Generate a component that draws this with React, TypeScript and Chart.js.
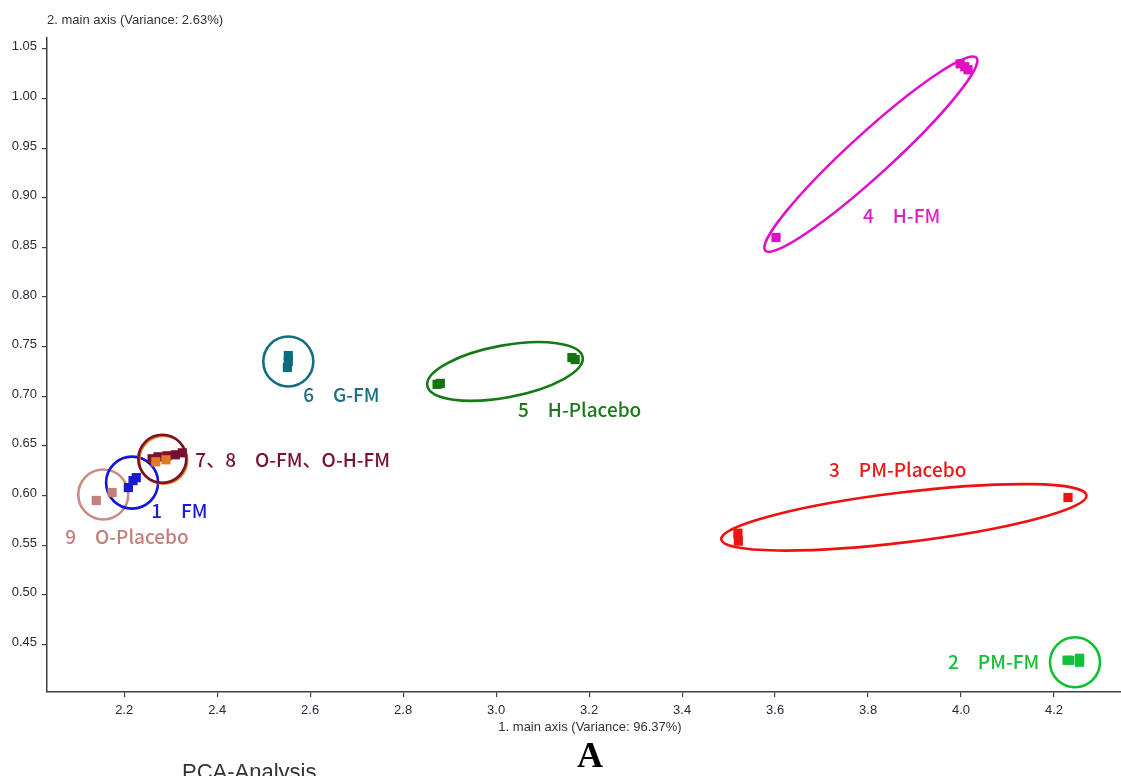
import React, { useEffect, useRef } from 'react';
import { Chart, registerables } from 'chart.js';

Chart.register(...registerables);

// ---------- axis ----------
const xTickValues = [2.2, 2.4, 2.6, 2.8, 3.0, 3.2, 3.4, 3.6, 3.8, 4.0, 4.2];
const yTickValues = [0.45, 0.5, 0.55, 0.6, 0.65, 0.7, 0.75, 0.8, 0.85, 0.9, 0.95, 1.0, 1.05];
const xMin = 2.034;
const xMax = 4.344;
const yMin = 0.402;
const yMax = 1.061;

const xAxisTitle = '1. main axis (Variance: 96.37%)';
const yAxisTitle = '2. main axis (Variance: 2.63%)';
const panelLetter = 'A';
const footerText = 'PCA-Analysis';

// ---------- series (PC1, PC2) ----------
const oPlaceboX = [2.14, 2.174];
const oPlaceboY = [0.595, 0.603];

const fmX = [2.209, 2.219, 2.226];
const fmY = [0.608, 0.615, 0.618];

const ohfmX = [2.268, 2.29];
const ohfmY = [0.634, 0.636];

const ofmX = [2.26, 2.273, 2.292, 2.31, 2.325];
const ofmY = [0.637, 0.639, 0.64, 0.641, 0.643];

const gfmX = [2.553, 2.553, 2.551];
const gfmY = [0.741, 0.735, 0.729];

const hPlaceboX = [2.873, 2.88, 3.163, 3.17];
const hPlaceboY = [0.712, 0.713, 0.739, 0.737];

const pmPlaceboX = [3.52, 3.521, 4.23];
const pmPlaceboY = [0.562, 0.554, 0.598];

const hfmX = [3.602, 3.998, 4.008, 4.015];
const hfmY = [0.86, 1.035, 1.032, 1.029];

const pmfmX = [4.228, 4.234, 4.255, 4.255];
const pmfmY = [0.434, 0.434, 0.436, 0.432];

const seriesNames = ['O-Placebo', 'FM', 'O-H-FM', 'O-FM', 'G-FM', 'H-Placebo', 'PM-Placebo', 'H-FM', 'PM-FM'];
const seriesX = [oPlaceboX, fmX, ohfmX, ofmX, gfmX, hPlaceboX, pmPlaceboX, hfmX, pmfmX];
const seriesY = [oPlaceboY, fmY, ohfmY, ofmY, gfmY, hPlaceboY, pmPlaceboY, hfmY, pmfmY];
const seriesColors = ['#c4807b', '#1a1ad0', '#e07a20', '#7a1030', '#0e6a80', '#137313', '#ee1111', '#e010c0', '#12c03a'];

// ---------- annotations: group rings (centre in data units, radii in px) ----------
const rings = [
  { cx: 2.155, cy: 0.601, rx: 25, ry: 25, rot: 0, color: '#c98c87', w: 2.6, dx: 0, dy: 0 },
  { cx: 2.217, cy: 0.613, rx: 26, ry: 26, rot: 0, color: '#1414dc', w: 2.6, dx: 0, dy: 0 },
  { cx: 2.282, cy: 0.637, rx: 24, ry: 24, rot: 0, color: '#e08020', w: 2, dx: 1.2, dy: 1.2 },
  { cx: 2.282, cy: 0.637, rx: 24, ry: 24, rot: 0, color: '#7c1028', w: 2.6, dx: 0, dy: 0 },
  { cx: 2.553, cy: 0.735, rx: 25, ry: 25, rot: 0, color: '#146c80', w: 2.6, dx: 0, dy: 0 },
  { cx: 3.019, cy: 0.725, rx: 79, ry: 26, rot: -10.5, color: '#147a14', w: 2.6, dx: 0, dy: 0 },
  { cx: 3.877, cy: 0.578, rx: 184, ry: 25, rot: -6.9, color: '#f01010', w: 2.6, dx: 0, dy: 0 },
  { cx: 3.806, cy: 0.944, rx: 143, ry: 21, rot: -42.4, color: '#e010c8', w: 2.6, dx: 0, dy: 0 },
  { cx: 4.245, cy: 0.432, rx: 25, ry: 25, rot: 0, color: '#10c030', w: 2.6, dx: 0, dy: 0 },
];

// ---------- annotations: group labels (anchor in data units) ----------
const groupLabels = [
  { text: '9\u3000O-Placebo', x: 2.073, y: 0.558, color: '#c47f7a' },
  { text: '1\u3000FM', x: 2.258, y: 0.585, color: '#1a1ad0' },
  { text: '7、8\u3000O-FM、O-H-FM', x: 2.353, y: 0.636, color: '#7a1030' },
  { text: '6\u3000G-FM', x: 2.585, y: 0.701, color: '#1a6e80' },
  { text: '5\u3000H-Placebo', x: 3.047, y: 0.686, color: '#1a7a1a' },
  { text: '3\u3000PM-Placebo', x: 3.716, y: 0.626, color: '#f01818' },
  { text: '4\u3000H-FM', x: 3.789, y: 0.882, color: '#e020c0' },
  { text: '2\u3000PM-FM', x: 3.972, y: 0.432, color: '#14c038' },
];

const axisColor = '#404040';
const tickColor = '#2a2a38';
const tickFont = '"Liberation Sans", Arial, sans-serif';

const ringPlugin = {
  id: 'ringsAndLabels',
  beforeDatasetsDraw(chart: any) {
    const ctx = chart.ctx;
    const xs = chart.scales.x;
    const ys = chart.scales.y;
    ctx.save();
    rings.forEach((r) => {
      const px = xs.getPixelForValue(r.cx) + r.dx;
      const py = ys.getPixelForValue(r.cy) + r.dy;
      ctx.beginPath();
      ctx.ellipse(px, py, r.rx, r.ry, (r.rot * Math.PI) / 180, 0, Math.PI * 2);
      ctx.strokeStyle = r.color;
      ctx.lineWidth = r.w;
      ctx.stroke();
    });
    ctx.restore();
  },
  afterDatasetsDraw(chart: any) {
    const ctx = chart.ctx;
    const xs = chart.scales.x;
    const ys = chart.scales.y;
    ctx.save();
    ctx.font = '500 19px "Noto Sans CJK SC", "Noto Sans", sans-serif';
    ctx.textAlign = 'left';
    ctx.textBaseline = 'middle';
    groupLabels.forEach((l) => {
      ctx.fillStyle = l.color;
      ctx.fillText(l.text, xs.getPixelForValue(l.x), ys.getPixelForValue(l.y));
    });
    ctx.restore();
  },
  afterDraw(chart: any) {
    const ctx = chart.ctx;
    const area = chart.chartArea;
    ctx.save();
    ctx.fillStyle = '#333333';
    ctx.font = '13px ' + tickFont;
    ctx.textBaseline = 'middle';
    ctx.textAlign = 'left';
    ctx.fillText(yAxisTitle, area.left, 20);
    ctx.textAlign = 'center';
    ctx.fillText(xAxisTitle, 590, 727);
    ctx.fillStyle = '#000000';
    ctx.font = 'bold 36px "Liberation Serif", "Times New Roman", serif';
    ctx.textBaseline = 'alphabetic';
    ctx.fillText(panelLetter, 590, 767);
    ctx.fillStyle = '#333333';
    ctx.font = '22px ' + tickFont;
    ctx.textAlign = 'left';
    ctx.fillText(footerText, 182, 779);
    ctx.restore();
  },
};

export default function App() {
  const canvasRef = useRef<HTMLCanvasElement | null>(null);

  useEffect(() => {
    if (!canvasRef.current) return;
    const datasets = seriesNames.map((name, i) => ({
      label: name,
      data: seriesX[i].map((x, j) => ({ x, y: seriesY[i][j] })),
      backgroundColor: seriesColors[i],
      borderColor: seriesColors[i],
      borderWidth: 0,
      pointStyle: 'rect',
      pointRadius: 6.5,
      pointHoverRadius: 6.5,
    }));

    const chart = new Chart(canvasRef.current, {
      type: 'scatter',
      data: { datasets },
      plugins: [ringPlugin],
      options: {
        responsive: false,
        animation: false,
        devicePixelRatio: 1,
        layout: { autoPadding: false, padding: { left: 0, right: 0, top: 38, bottom: 0 } },
        plugins: {
          legend: { display: false },
          tooltip: { enabled: false },
        },
        scales: {
          x: {
            type: 'linear',
            min: xMin,
            max: xMax,
            afterBuildTicks: (scale: any) => {
              scale.ticks = xTickValues.map((v) => ({ value: v }));
            },
            afterFit: (scale: any) => {
              scale.height = 776 - 692;
              scale.paddingLeft = 0;
              scale.paddingRight = 0;
            },
            grid: {
              drawOnChartArea: false,
              drawTicks: true,
              tickLength: 5,
              color: axisColor,
              lineWidth: 1.2,
            },
            border: { display: true, color: axisColor, width: 1.5 },
            ticks: {
              color: tickColor,
              font: { family: tickFont, size: 13 },
              padding: 6,
              maxRotation: 0,
              autoSkip: false,
              callback: (v: any) => Number(v).toFixed(1),
            },
          },
          y: {
            type: 'linear',
            min: yMin,
            max: yMax,
            afterBuildTicks: (scale: any) => {
              scale.ticks = yTickValues.map((v) => ({ value: v }));
            },
            afterFit: (scale: any) => {
              scale.width = 47;
            },
            grid: {
              drawOnChartArea: false,
              drawTicks: true,
              tickLength: 5,
              color: axisColor,
              lineWidth: 1.2,
            },
            border: { display: true, color: axisColor, width: 1.5 },
            ticks: {
              color: tickColor,
              font: { family: tickFont, size: 13 },
              padding: 5,
              labelOffset: -2,
              autoSkip: false,
              callback: (v: any) => Number(v).toFixed(2),
            },
          },
        },
      },
    } as any);

    return () => chart.destroy();
  }, []);

  return (
    <div style={{ position: 'absolute', left: 0, top: 0, width: 1121, height: 776, background: '#ffffff', overflow: 'hidden' }}>
      <canvas ref={canvasRef} width={1121} height={776} style={{ display: 'block' }} />
    </div>
  );
}
